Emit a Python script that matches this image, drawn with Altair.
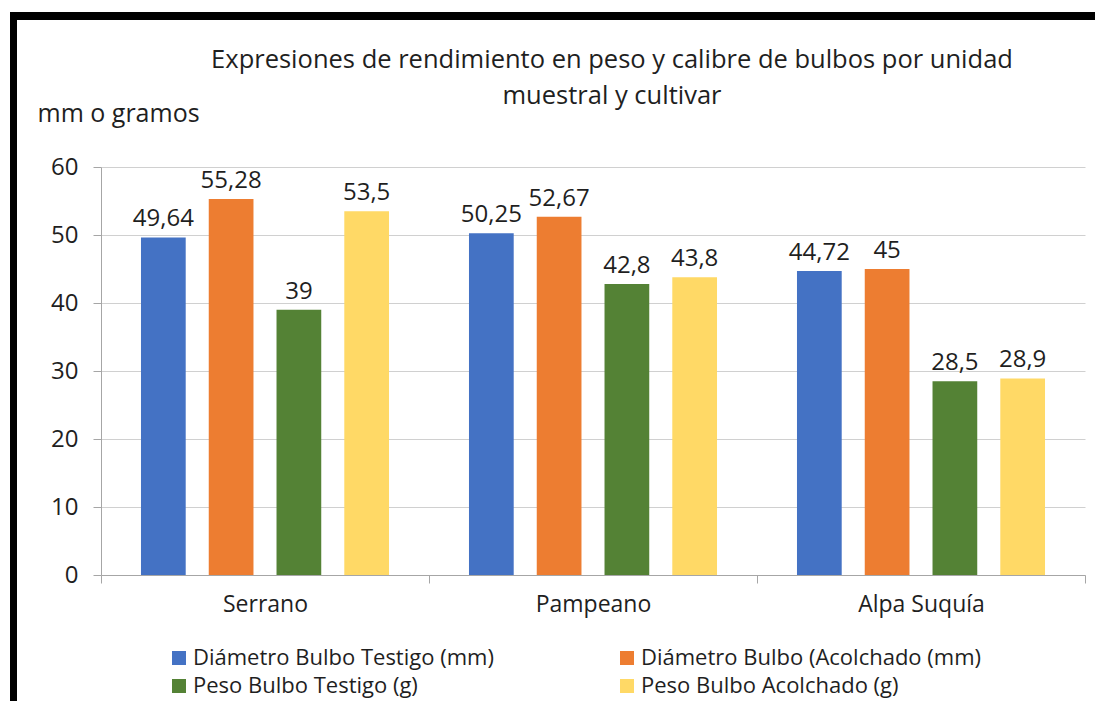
import altair as alt
import pandas as pd

cultivares = ["Serrano", "Pampeano", "Alpa Suquía"]
series = [
    "Diámetro Bulbo Testigo (mm)",
    "Diámetro Bulbo (Acolchado (mm)",
    "Peso Bulbo Testigo (g)",
    "Peso Bulbo Acolchado (g)",
]
diam_testigo = [49.64, 50.25, 44.72]
diam_acolchado = [55.28, 52.67, 45]
peso_testigo = [39, 42.8, 28.5]
peso_acolchado = [53.5, 43.8, 28.9]
colores = ["#4472C4", "#ED7D31", "#548235", "#FFD966"]
y_ticks = [0, 10, 20, 30, 40, 50, 60]

rows = []
for s, vals in zip(series, [diam_testigo, diam_acolchado, peso_testigo, peso_acolchado]):
    for c, v in zip(cultivares, vals):
        rows.append({"cultivar": c, "serie": s, "valor": v,
                     "etiqueta": f"{v:g}".replace(".", ",")})
df = pd.DataFrame(rows)

FONT = "Open Sans"
TXT = "#1f1f1f"

base = alt.Chart(df).encode(
    x=alt.X("cultivar:N", sort=cultivares,
            scale=alt.Scale(paddingInner=0, paddingOuter=0),
            axis=alt.Axis(title=None, labelAngle=0, tickBand="extent", tickSize=8,
                          labelFontSize=23, labelPadding=10, labelColor=TXT,
                          domainColor="#a6a6a6", tickColor="#a6a6a6", grid=False)),
    xOffset=alt.XOffset("serie:N", sort=series,
                        scale=alt.Scale(paddingInner=0.34, paddingOuter=0.59)),
)

bars = base.mark_bar().encode(
    y=alt.Y("valor:Q", scale=alt.Scale(domain=[0, 60], nice=False),
            axis=alt.Axis(values=y_ticks, title="mm o gramos", titleAngle=0,
                          titleAlign="left", titleBaseline="alphabetic",
                          titleX=-64, titleY=-46, titleFontSize=25,
                          titleFontWeight="normal", titleColor=TXT,
                          labelFontSize=24, labelPadding=15, labelColor=TXT,
                          tickSize=8, tickColor="#a6a6a6", domainColor="#a6a6a6",
                          gridColor="#d0d0d0")),
    color=alt.Color("serie:N", sort=series,
                    scale=alt.Scale(domain=series, range=colores),
                    legend=alt.Legend(title=None, orient="none", legendX=67, legendY=480,
                                      direction="horizontal",
                                      columns=2, columnPadding=122, rowPadding=6,
                                      symbolType="square", symbolSize=196,
                                      symbolStrokeWidth=0, labelFontSize=22,
                                      labelOffset=3,
                                      labelColor=TXT, padding=0, labelLimit=600)),
)

labels = base.mark_text(baseline="alphabetic", dy=-11, fontSize=24, color=TXT).encode(
    y=alt.Y("valor:Q"),
    text="etiqueta:N",
)

frame_df = pd.DataFrame({"k": [0]})
frame_top = alt.Chart(frame_df).mark_rule(color="black", strokeWidth=8).encode(
    x=alt.value(-91), x2=alt.value(1000), y=alt.value(-151))
frame_left = alt.Chart(frame_df).mark_rule(color="black", strokeWidth=7).encode(
    x=alt.value(-87.5), y=alt.value(-155), y2=alt.value(560))

chart = alt.layer(bars, labels, frame_top, frame_left).properties(
    width=984, height=408,
    autosize=alt.AutoSizeParams(type="none"),
    padding={"left": 93, "top": 159, "right": 10, "bottom": 126},
    title=alt.Title(["Expresiones de rendimiento en peso y calibre de bulbos por unidad",
                     "muestral y cultivar"],
                    fontSize=25.5, fontWeight="normal", color=TXT, anchor="middle",
                    dx=19, dy=105, lineHeight=36),
).configure(font=FONT).configure_view(stroke=None)

chart.save("out.html", embed_options={"renderer": "svg", "actions": False})
